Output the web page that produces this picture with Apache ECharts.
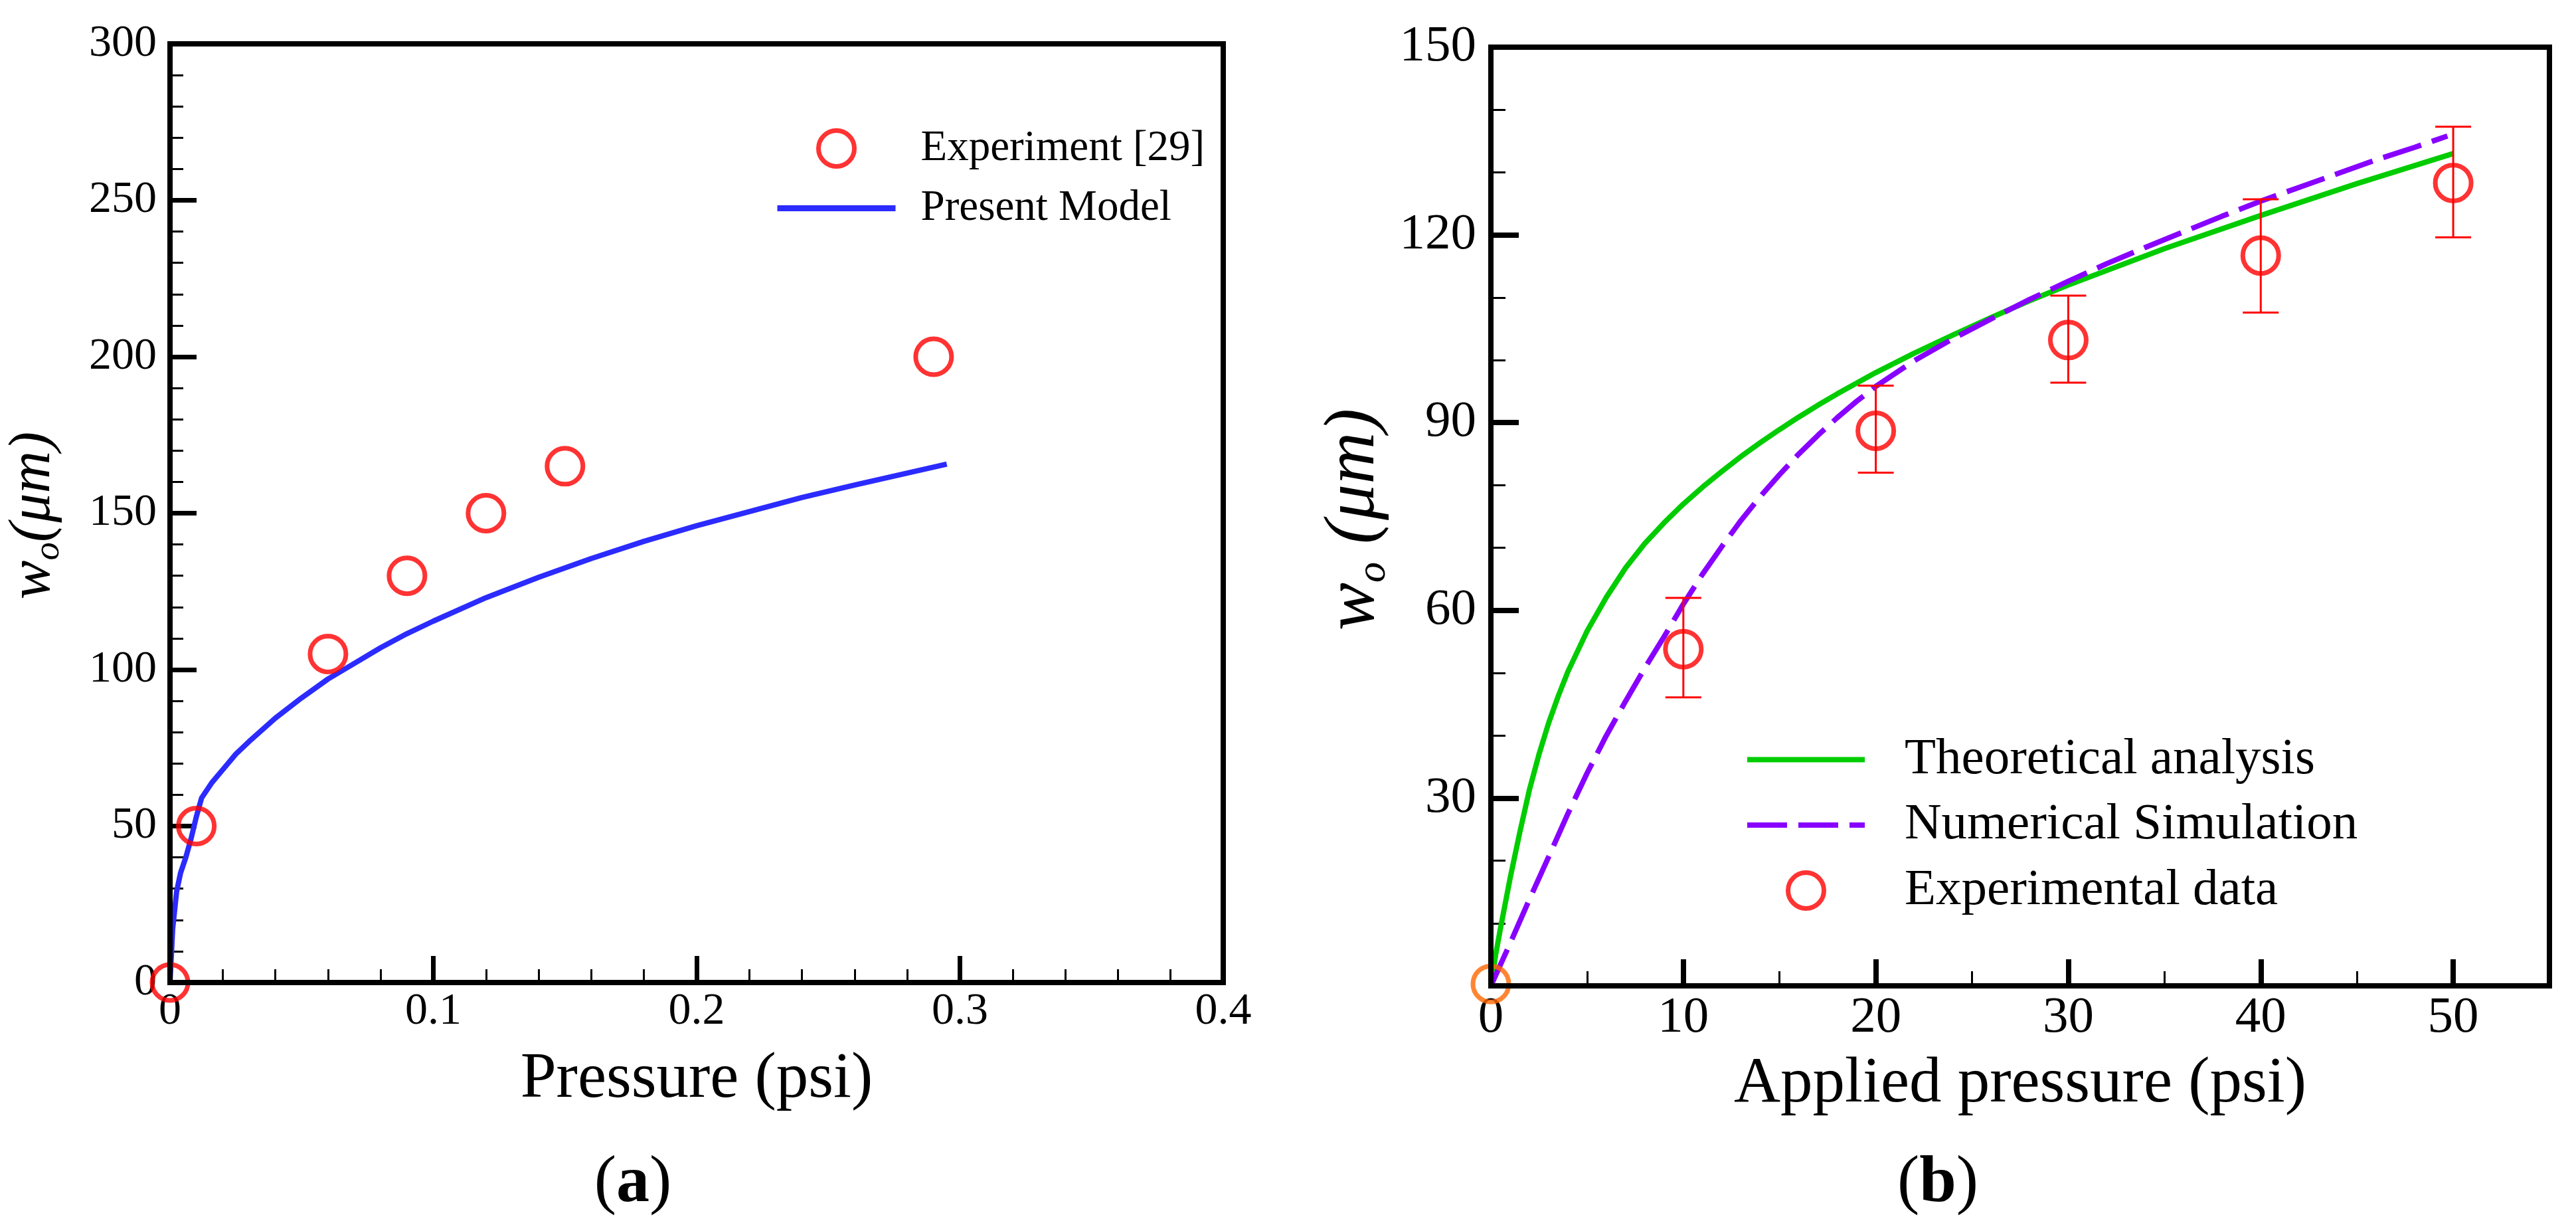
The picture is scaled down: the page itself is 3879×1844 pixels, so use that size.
<!DOCTYPE html>
<html><head><meta charset="utf-8">
<script src="https://cdn.jsdelivr.net/npm/echarts@6/dist/echarts.min.js"></script>
<style>html,body{margin:0;padding:0;background:#fff}#c{width:3879px;height:1844px}</style>
</head><body><div id="c"></div>
<script>
// ---- Panel (a) data ----
const expAX = [0, 0.01, 0.06, 0.09, 0.12, 0.15, 0.29];
const expAY = [0, 50, 105, 130, 150, 165, 200];
const modelAX = [0, 0.001, 0.0025, 0.004, 0.006, 0.008, 0.010, 0.012, 0.016, 0.02, 0.025, 0.03, 0.04, 0.05, 0.06, 0.07, 0.08, 0.09, 0.10, 0.12, 0.14, 0.16, 0.18, 0.20, 0.22, 0.24, 0.26, 0.28, 0.295];
const modelAY = [0, 17, 29, 35, 40, 46, 53, 59, 64, 68, 73, 77, 84.5, 91, 97, 102, 107, 111.5, 115.5, 123, 129.5, 135.5, 141, 146, 150.5, 155, 159, 162.8, 165.7];
// ---- Panel (b) data ----
const theoX = [0, 0.25, 0.5, 1, 1.5, 2, 2.5, 3, 3.5, 4, 5, 6, 7, 8, 9, 10, 11, 12, 13, 14, 15, 16, 17, 18, 19, 20, 22, 24, 26, 28, 30, 35, 40, 45, 50];
const theoY = [0, 5, 9.2, 17.2, 24.5, 31.3, 37, 42, 46.3, 50.2, 56.7, 62.1, 66.8, 70.7, 74.0, 77, 79.7, 82.2, 84.6, 86.8, 88.9, 90.9, 92.8, 94.6, 96.3, 98.0, 101.1, 104.0, 106.8, 109.5, 112.0, 117.8, 123.1, 128.2, 133];
const numX = [0, 1, 2, 3, 4, 5, 6, 7, 8, 9, 10, 11, 12, 13, 14, 15, 16, 17, 18, 19, 20, 22, 24, 26, 28, 30, 32, 34, 36, 38, 40, 42, 44, 46, 48, 49.7];
const numY = [0, 6.8, 13.8, 20.6, 27.5, 34, 40, 45.5, 50.8, 55.8, 61, 65.8, 70.2, 74.4, 78.2, 81.7, 85, 88, 90.8, 93.4, 95.8, 99.9, 103.4, 106.6, 109.7, 112.6, 115.4, 118, 120.5, 123, 125.4, 127.6, 129.8, 132, 134, 135.8];
const expBX = [0, 10, 20, 30, 40, 50];
const expBY = [0.3, 53.8, 88.7, 103.2, 116.7, 128.3];
const errLow = [null, 46.1, 82.0, 96.4, 107.6, 119.6];
const errHigh = [null, 62.0, 95.9, 110.3, 125.7, 137.3];
// ---- tick labels ----
const bMajorX = [0, 10, 20, 30, 40, 50];
const bMinorX = [5, 15, 25, 35, 45];

const F = 'Liberation Serif';
const zip = (xs, ys) => xs.map((x, i) => [x, ys[i]]);

const chart = echarts.init(document.getElementById('c'));

function majorTick(len, w) { return { show: true, inside: true, length: len, lineStyle: { color: '#000', width: w } }; }
function minorTick(n, len) { return { show: true, splitNumber: n, length: len, lineStyle: { color: '#000', width: 3 } }; }

function yTitle(x, y, text, main, sub, lh, subLh) {
  return {
    type: 'text', x: x, y: y, rotation: Math.PI / 2, z: 10,
    style: {
      text: text, align: 'center', verticalAlign: 'middle',
      rich: {
        w: { fontFamily: F, fontStyle: 'italic', fontSize: main, lineHeight: lh, fill: '#000' },
        s: { fontFamily: F, fontStyle: 'italic', fontSize: sub, lineHeight: subLh, verticalAlign: 'bottom', fill: '#000' },
        u: { fontFamily: F, fontStyle: 'italic', fontSize: main, lineHeight: lh, fill: '#000' }
      }
    }
  };
}
function panelTag(x, y, letter) {
  return {
    type: 'text', x: x, y: y,
    style: { text: '{p|(}{b|' + letter + '}{p|)}', align: 'center', verticalAlign: 'middle',
      rich: { p: { fontFamily: F, fontSize: 100, fill: '#000' }, b: { fontFamily: F, fontSize: 100, fontWeight: 'bold', fill: '#000' } } }
  };
}

const option = {
  animation: false,
  backgroundColor: '#fff',
  grid: [
    { left: 256, top: 66, width: 1586, height: 1413, show: true, borderColor: '#000', borderWidth: 8, z: 5 },
    { left: 2245, top: 71, width: 1594, height: 1413, show: true, borderColor: '#000', borderWidth: 8, z: 5 }
  ],
  xAxis: [
    {
      gridIndex: 0, type: 'value', min: 0, max: 0.4, interval: 0.1,
      axisLine: { show: false }, splitLine: { show: false },
      axisTick: majorTick(40, 7), minorTick: minorTick(5, 20),
      axisLabel: { fontFamily: F, fontSize: 68, color: '#000', margin: 10 },
      name: 'Pressure (psi)', nameLocation: 'middle', nameGap: 98,
      nameTextStyle: { fontFamily: F, fontSize: 97, color: '#000' }
    },
    {
      gridIndex: 1, type: 'value', min: 0, max: 55,
      axisLine: { show: false }, splitLine: { show: false },
      axisTick: Object.assign(majorTick(40, 8), { customValues: bMajorX }),
      axisLabel: { fontFamily: F, fontSize: 77, color: '#000', margin: 10, customValues: bMajorX },
      name: 'Applied pressure (psi)', nameLocation: 'middle', nameGap: 100,
      nameTextStyle: { fontFamily: F, fontSize: 97, color: '#000' }
    },
    {
      gridIndex: 1, type: 'value', min: 0, max: 55, position: 'bottom',
      axisLine: { show: false }, splitLine: { show: false },
      axisTick: { show: true, inside: true, length: 22, lineStyle: { color: '#000', width: 3 }, customValues: bMinorX },
      axisLabel: { show: false }
    }
  ],
  yAxis: [
    {
      gridIndex: 0, type: 'value', min: 0, max: 300, interval: 50,
      axisLine: { show: false }, splitLine: { show: false },
      axisTick: majorTick(40, 7), minorTick: minorTick(5, 20),
      axisLabel: { fontFamily: F, fontSize: 68, color: '#000', margin: 20 }
    },
    {
      gridIndex: 1, type: 'value', min: 0, max: 150, interval: 30,
      axisLine: { show: false }, splitLine: { show: false },
      axisTick: majorTick(42, 8), minorTick: minorTick(3, 22),
      axisLabel: { fontFamily: F, fontSize: 77, color: '#000', margin: 22, formatter: v => (v === 0 ? '' : String(v)) }
    }
  ],
  legend: [
    {
      data: [
        { name: 'Experiment [29]', itemStyle: { borderWidth: 7 } },
        { name: 'Present Model', itemStyle: { opacity: 0 } }
      ],
      orient: 'vertical', left: 1166, top: 191, padding: 0,
      itemWidth: 178, itemHeight: 54, itemGap: 25, selectedMode: false,
      lineStyle: { width: 9 },
      textStyle: { fontFamily: F, fontSize: 65, color: '#000', padding: [0, 0, 0, 33] }
    },
    {
      data: [
        { name: 'Theoretical analysis', itemStyle: { opacity: 0 } },
        { name: 'Numerical Simulation', itemStyle: { opacity: 0 } },
        { name: 'Experimental data', itemStyle: { borderWidth: 7 } }
      ],
      orient: 'vertical', left: 2627, top: 1105, padding: 0,
      itemWidth: 177, itemHeight: 54, itemGap: 21.5, selectedMode: false,
      lineStyle: { width: 8 },
      textStyle: { fontFamily: F, fontSize: 77, color: '#000', padding: [0, 0, 0, 55] }
    }
  ],
  series: [
    {
      name: 'Present Model', type: 'line', xAxisIndex: 0, yAxisIndex: 0,
      data: zip(modelAX, modelAY), symbol: 'none', showSymbol: false, smooth: false,
      lineStyle: { color: '#2b2bff', width: 8, join: 'round' }, itemStyle: { color: '#2b2bff' }, z: 2
    },
    {
      name: 'Experiment [29]', type: 'scatter', xAxisIndex: 0, yAxisIndex: 0,
      data: zip(expAX, expAY), symbol: 'circle', symbolSize: 54, clip: false,
      itemStyle: { color: 'rgba(255,255,255,0)', borderColor: '#ff0000', borderWidth: 7 }, z: 3
    },
    {
      name: 'Theoretical analysis', type: 'line', xAxisIndex: 1, yAxisIndex: 1,
      data: zip(theoX, theoY), symbol: 'none', showSymbol: false, smooth: false,
      lineStyle: { color: '#00cc00', width: 8, join: 'round' }, itemStyle: { color: '#00cc00' }, z: 2
    },
    {
      name: 'Numerical Simulation', type: 'line', xAxisIndex: 1, yAxisIndex: 1,
      data: zip(numX, numY), symbol: 'none', showSymbol: false, smooth: false,
      lineStyle: { color: '#8800ff', width: 8, type: [60, 17] }, itemStyle: { color: '#8800ff' }, z: 2
    },
    {
      name: 'errorbars', type: 'custom', xAxisIndex: 1, yAxisIndex: 1,
      data: expBX.map((x, i) => [x, errLow[i], errHigh[i]]).filter(d => d[1] !== null),
      encode: { x: 0, y: [1, 2] }, z: 3,
      renderItem: function (params, api) {
        const x = api.value(0), lo = api.value(1), hi = api.value(2);
        const pLo = api.coord([x, lo]), pHi = api.coord([x, hi]);
        const w = 27;
        const st = { stroke: '#ff0000', lineWidth: 3 };
        return {
          type: 'group', children: [
            { type: 'line', shape: { x1: pLo[0], y1: pLo[1], x2: pHi[0], y2: pHi[1] }, style: st },
            { type: 'line', shape: { x1: pLo[0] - w, y1: pLo[1], x2: pLo[0] + w, y2: pLo[1] }, style: st },
            { type: 'line', shape: { x1: pHi[0] - w, y1: pHi[1], x2: pHi[0] + w, y2: pHi[1] }, style: st }
          ]
        };
      }
    },
    {
      name: 'Experimental data', type: 'scatter', xAxisIndex: 1, yAxisIndex: 1,
      data: expBX.map((x, i) => i === 0
        ? { value: [x, expBY[i]], itemStyle: { borderColor: '#ff6600' } }
        : [x, expBY[i]]),
      symbol: 'circle', symbolSize: 54, clip: false,
      itemStyle: { color: 'rgba(255,255,255,0)', borderColor: '#ff0000', borderWidth: 7 }, z: 4
    }
  ],
  graphic: [
    yTitle(51, 776, '{w|w}{s|o}{u|(μm)}', 88, 55, 100, 12),
    yTitle(2040, 782, '{w|w}{s|o}{u| (μm)}', 108, 62, 120, 18),
    panelTag(953, 1782, 'a'),
    panelTag(2918, 1782, 'b')
  ]
};
chart.setOption(option);
</script>
</body></html>
